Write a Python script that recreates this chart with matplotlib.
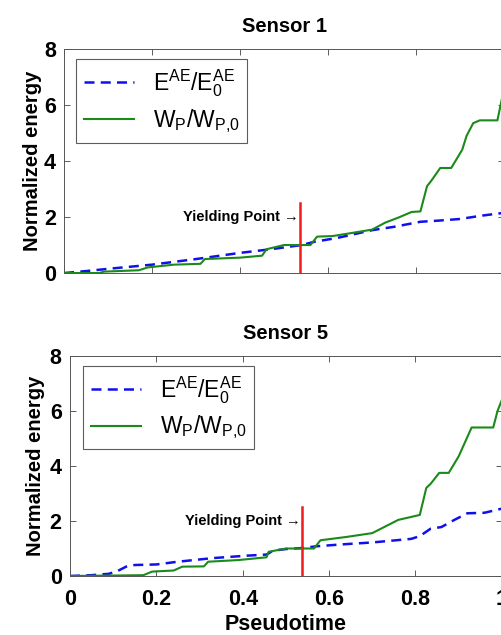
import matplotlib
matplotlib.use("Agg")
import matplotlib.pyplot as plt

plt.rcParams['font.family'] = ['Liberation Sans', 'DejaVu Sans']
plt.rcParams['mathtext.default'] = 'regular'

# Sensor 1
s1_e_x = [0, 0.05, 0.1, 0.2, 0.3, 0.4, 0.47, 0.54, 0.57, 0.62, 0.7, 0.75, 0.81, 0.85, 0.9, 0.95, 1.0]
s1_e_y = [0, 0.07, 0.15, 0.3, 0.5, 0.72, 0.85, 1.0, 1.12, 1.25, 1.53, 1.65, 1.83, 1.87, 1.93, 2.05, 2.15]
s1_w_x = [0, 0.08, 0.09, 0.17, 0.19, 0.25, 0.31, 0.32, 0.40, 0.45, 0.46, 0.50, 0.56, 0.575, 0.61, 0.65,
          0.70, 0.73, 0.76, 0.79, 0.81, 0.825, 0.835, 0.855, 0.88, 0.905, 0.915, 0.93, 0.945, 0.985, 0.995, 1.0]
s1_w_y = [0, 0, 0.05, 0.1, 0.2, 0.3, 0.33, 0.5, 0.55, 0.62, 0.85, 1.0, 1.0, 1.3, 1.32, 1.42,
          1.55, 1.8, 1.98, 2.18, 2.2, 3.1, 3.3, 3.75, 3.75, 4.4, 4.9, 5.35, 5.45, 5.45, 6.2, 6.5]

# Sensor 5
s5_e_x = [0, 0.05, 0.09, 0.11, 0.13, 0.15, 0.2, 0.25, 0.33, 0.41, 0.455, 0.47, 0.5, 0.54, 0.57, 0.63,
          0.7, 0.79, 0.81, 0.835, 0.86, 0.89, 0.92, 0.96, 1.0]
s5_e_y = [0, 0.03, 0.08, 0.18, 0.34, 0.4, 0.42, 0.52, 0.65, 0.74, 0.78, 0.92, 0.98, 1.02, 1.08, 1.15,
          1.22, 1.35, 1.45, 1.72, 1.78, 2.04, 2.28, 2.3, 2.45]
s5_w_x = [0, 0.17, 0.19, 0.24, 0.26, 0.31, 0.32, 0.39, 0.455, 0.46, 0.5, 0.565, 0.58, 0.64, 0.70, 0.76,
          0.81, 0.825, 0.835, 0.855, 0.877, 0.9, 0.93, 0.98, 0.99, 1.0]
s5_w_y = [0, 0.03, 0.16, 0.2, 0.34, 0.35, 0.52, 0.58, 0.68, 0.88, 1.0, 1.0, 1.3, 1.42, 1.56, 2.04,
          2.22, 3.2, 3.35, 3.75, 3.75, 4.35, 5.4, 5.4, 6.0, 6.4]

yield_x = 0.537
yield_top = 2.5
yield_label_y = 2.0

xticks = [0, 0.2, 0.4, 0.6, 0.8, 1]
xticklabels = ['0', '0.2', '0.4', '0.6', '0.8', '1']
yticks = [0, 2, 4, 6, 8]

fig = plt.figure(figsize=(5.01, 6.35), dpi=100)
ax1 = fig.add_axes([0.128, 0.570, 0.878, 0.353])
ax2 = fig.add_axes([0.1397, 0.0929, 0.862, 0.3465])


def draw(ax, title, ex, ey, wx, wy, xlabels, leg_x, ylabpad):
    ax.plot(ex, ey, color='#1010ee', lw=1.8, dashes=(4, 2.5), label=r'$E^{AE}/E_0^{AE}$')
    ax.plot(wx, wy, color='#1a8a1a', lw=1.5, label=r'$W_P/W_{P{,}0}$')
    ax.plot([yield_x, yield_x], [0, yield_top], color='#ee1c1c', lw=1.8)
    ax.text(yield_x - 0.003, yield_label_y, 'Yielding Point \u2192', ha='right', va='center',
            fontsize=10.5, fontweight='bold')
    ax.set_xlim(0, 1)
    ax.set_ylim(0, 8)
    ax.set_xticks(xticks)
    ax.set_yticks(yticks)
    if xlabels:
        ax.set_xticklabels(xticklabels)
    else:
        ax.set_xticklabels([])
    ax.tick_params(direction='in', top=True, right=True, length=4, width=0.6,
                   labelsize=15.5, colors='#444444', labelcolor='black', pad=6)
    ax.tick_params(axis='x', pad=9)
    for lab in ax.get_xticklabels() + ax.get_yticklabels():
        lab.set_fontweight('bold')
    for sp in ax.spines.values():
        sp.set_color('#555555')
        sp.set_linewidth(0.7)
    ax.set_title(title, fontsize=14.5, fontweight='bold', pad=12)
    ax.set_ylabel('Normalized energy', fontsize=14.5, fontweight='bold', labelpad=ylabpad)
    leg = ax.legend(loc='upper left', bbox_to_anchor=(leg_x, 0.955), fontsize=16.5, frameon=True,
                    fancybox=False, edgecolor='#333333', handlelength=2.2, borderpad=0.35,
                    labelspacing=0.35, handletextpad=0.8, borderaxespad=0)
    leg.get_frame().set_linewidth(0.8)


draw(ax1, 'Sensor 1', s1_e_x, s1_e_y, s1_w_x, s1_w_y, False, 0.027, 1)
draw(ax2, 'Sensor 5', s5_e_x, s5_e_y, s5_w_x, s5_w_y, True, 0.03, 3)
ax2.set_xlabel('Pseudotime', fontsize=15.5, fontweight='bold', labelpad=3)

fig.savefig('out.png', dpi=100)
